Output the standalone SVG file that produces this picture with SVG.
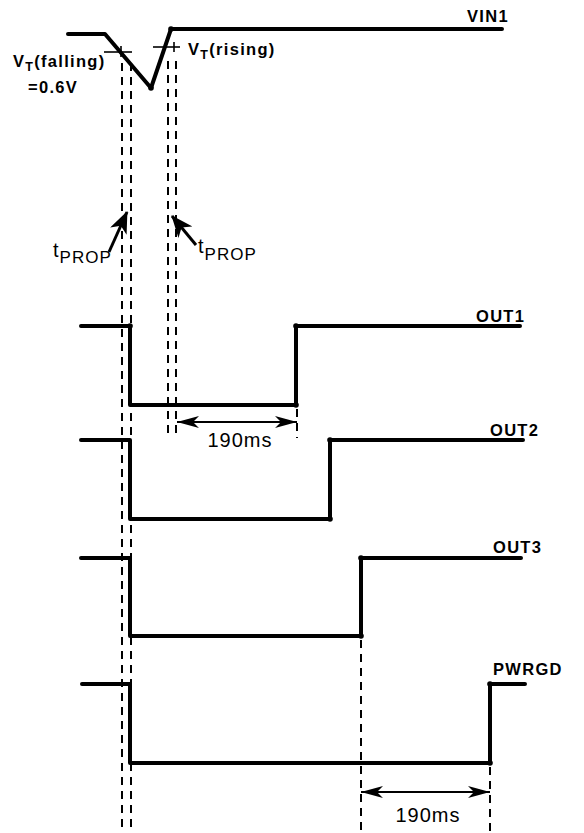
<svg xmlns="http://www.w3.org/2000/svg" width="584" height="833" viewBox="0 0 584 833">
<style>
.wave{fill:none;stroke:#000;stroke-width:4;stroke-linecap:round;stroke-linejoin:round}
.dash{fill:none;stroke:#000;stroke-width:2;stroke-dasharray:8,6}
.thin{fill:none;stroke:#000;stroke-width:1.6}
.arr{fill:none;stroke:#000;stroke-width:2}
.parr{fill:none;stroke:#000;stroke-width:3}
.lbl{font-family:"Liberation Sans",Arial,sans-serif;font-weight:bold;font-size:16.5px;letter-spacing:1.3px;fill:#000}
.reg{font-family:"Liberation Sans",Arial,sans-serif;font-size:20px;letter-spacing:1px;fill:#000}
.dot{fill:#000}
</style>
<defs>
<marker id="ah" viewBox="0 0 22 12" refX="22" refY="6" markerWidth="22" markerHeight="12" markerUnits="userSpaceOnUse" orient="auto-start-reverse">
<path d="M0,0 L22,6 L0,12 L6,6 Z" fill="#000"/>
</marker>
<marker id="ph" viewBox="0 0 22 18" refX="21" refY="9" markerWidth="22" markerHeight="18" markerUnits="userSpaceOnUse" orient="auto">
<path d="M0,0 L22,9 L0,18 L6,9 Z" fill="#000"/>
</marker>
</defs>
<g id="connectors">
<line class="dash" x1="122" y1="63" x2="122" y2="833"/>
<line class="dash" x1="131" y1="63" x2="131" y2="833"/>
<line class="dash" x1="168" y1="61" x2="168" y2="438"/>
<line class="dash" x1="176" y1="61" x2="176" y2="438"/>
<line class="dash" x1="297" y1="409" x2="297" y2="438"/>
<line class="dash" x1="361" y1="640" x2="361" y2="833"/>
<line class="dash" x1="490" y1="767" x2="490" y2="833"/>
<line class="parr" x1="109" y1="252" x2="127" y2="212" marker-end="url(#ph)"/>
<line class="parr" x1="196" y1="245" x2="172" y2="216" marker-end="url(#ph)"/>
<line class="arr" x1="177" y1="422" x2="297" y2="422" marker-start="url(#ah)" marker-end="url(#ah)"/>
<line class="arr" x1="361" y1="792" x2="490" y2="792" marker-start="url(#ah)" marker-end="url(#ah)"/>
</g>
<g id="vin1">
<polyline class="wave" points="68,34 105,34 151,88 171,29 502,29"/>
<line class="thin" x1="104" y1="52" x2="132" y2="52"/>
<line class="thin" x1="121" y1="46" x2="121" y2="57"/>
<line class="thin" x1="153" y1="47" x2="180" y2="47"/>
<line class="thin" x1="174" y1="42" x2="174" y2="52"/>
<circle class="dot" cx="151" cy="88" r="2.8"/>
<circle class="dot" cx="171" cy="29" r="2.8"/>
<text class="lbl" x="467" y="22">VIN1</text>
<text class="lbl" x="13" y="67">V<tspan font-size="12.5" dy="4">T</tspan><tspan dy="-4">(falling)</tspan></text>
<text class="lbl" x="28" y="93">=0.6V</text>
<text class="lbl" x="188" y="55">V<tspan font-size="12.5" dy="4">T</tspan><tspan dy="-4">(rising)</tspan></text>
</g>
<g id="tprop-left">
<text class="reg" x="53" y="257">t<tspan font-size="17" dy="6">PROP</tspan></text>
</g>
<g id="tprop-right">
<text class="reg" x="198" y="253">t<tspan font-size="17" dy="7">PROP</tspan></text>
</g>
<g id="out1">
<polyline class="wave" points="81,326 130,326 130,405 296,405 296,326 520,326"/>
<circle class="dot" cx="130" cy="326" r="2.8"/>
<circle class="dot" cx="296" cy="326" r="2.8"/>
<circle class="dot" cx="296" cy="405" r="2.8"/>
<text class="lbl" x="476" y="322">OUT1</text>
</g>
<g id="out2">
<polyline class="wave" points="81,440 130,440 130,519 330,519 330,440 523,440"/>
<circle class="dot" cx="330" cy="440" r="2.8"/>
<circle class="dot" cx="330" cy="519" r="2.8"/>
<text class="lbl" x="490" y="436">OUT2</text>
</g>
<g id="out3">
<polyline class="wave" points="81,558 130,558 130,636 361,636 361,558 521,558"/>
<circle class="dot" cx="361" cy="558" r="2.8"/>
<circle class="dot" cx="361" cy="636" r="2.8"/>
<text class="lbl" x="493" y="553">OUT3</text>
</g>
<g id="pwrgd">
<polyline class="wave" points="82,684 130,684 130,763 490,763 490,684 525,684"/>
<circle class="dot" cx="490" cy="684" r="2.8"/>
<circle class="dot" cx="490" cy="763" r="2.8"/>
<text class="lbl" x="493" y="675">PWRGD</text>
</g>
<g id="labels-190">
<text class="reg" x="240" y="447" text-anchor="middle">190ms</text>
<text class="reg" x="428" y="822" text-anchor="middle">190ms</text>
</g>
</svg>
